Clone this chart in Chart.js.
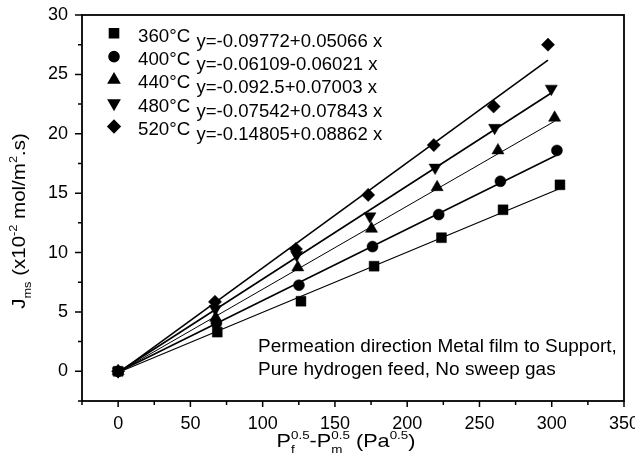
<!DOCTYPE html>
<html>
<head>
<meta charset="utf-8">
<script src="https://cdn.jsdelivr.net/npm/chart.js@4.4.0/dist/chart.umd.min.js"></script>
<style>
  html, body { margin: 0; padding: 0; background: #fff; }
  #wrap { width: 635px; height: 462px; }
</style>
</head>
<body>
<div id="wrap"><canvas id="chart" width="635" height="462"></canvas></div>
<script>
// series labels and fit equations as printed on the figure
const temps = ['360°C', '400°C', '440°C', '480°C', '520°C'];
const equations = [
  'y=-0.09772+0.05066 x',
  'y=-0.06109-0.06021 x',
  'y=-0.092.5+0.07003 x',
  'y=-0.07542+0.07843 x',
  'y=-0.14805+0.08862 x'
];
const intercepts = [-0.09772, -0.06109, -0.0925, -0.07542, -0.14805];
const slopes = [0.05066, 0.06021, 0.07003, 0.07843, 0.08862];

const x360 = [0, 68.6, 126.5, 177.1, 223.7, 266.3, 305.7];
const y360 = [0, 3.3, 5.9, 8.85, 11.25, 13.6, 15.7];
const x400 = [0, 68.0, 125.1, 176.0, 221.8, 264.5, 303.6];
const y400 = [0, 4.05, 7.25, 10.5, 13.2, 16.0, 18.6];
const x440 = [0, 67.5, 124.3, 175.3, 220.7, 262.8, 302.0];
const y440 = [0, 4.5, 8.75, 12.0, 15.5, 18.6, 21.35];
const x480 = [0, 67.2, 123.5, 174.2, 219.3, 260.5, 299.7];
const y480 = [0, 5.25, 9.8, 13.05, 17.15, 20.5, 23.8];
const x520 = [0, 67.0, 123.0, 173.0, 218.4, 259.8, 297.4];
const y520 = [0, 5.85, 10.3, 14.85, 19.05, 22.3, 27.5];

const xTicks = [0, 50, 100, 150, 200, 250, 300, 350];
const xMinorTicks = [-25, 25, 75, 125, 175, 225, 275, 325];
const yTicks = [0, 5, 10, 15, 20, 25, 30];
const yMinorTicks = [-2.5, 2.5, 7.5, 12.5, 17.5, 22.5, 27.5];

const xs = [x360, x400, x440, x480, x520];
const ys = [y360, y400, y440, y480, y520];

const FONT = '"Liberation Sans", Arial, Helvetica, sans-serif';
const markers = [
  { pointStyle: 'rect', rotation: 0, radius: 7 },
  { pointStyle: 'circle', rotation: 0, radius: 5.5 },
  { pointStyle: 'triangle', rotation: 0, radius: 7 },
  { pointStyle: 'triangle', rotation: 180, radius: 7 },
  { pointStyle: 'rectRot', rotation: 0, radius: 6.6 }
];
const fitWidths = [1.2, 1.6, 1, 1.6, 1.6];

const datasets = [];
xs.forEach((xv, i) => {
  const xEnd = xv[xv.length - 1];
  datasets.push({
    label: temps[i] + ' fit',
    data: [{ x: 0, y: intercepts[i] }, { x: xEnd, y: intercepts[i] + slopes[i] * xEnd }],
    showLine: true,
    borderColor: '#000',
    borderWidth: fitWidths[i],
    pointRadius: 0,
    order: 2
  });
});
xs.forEach((xv, i) => {
  datasets.push({
    label: temps[i],
    data: xv.map((x, k) => ({ x, y: ys[i][k] })),
    showLine: false,
    pointStyle: markers[i].pointStyle,
    rotation: markers[i].rotation,
    pointRadius: markers[i].radius,
    backgroundColor: '#000',
    borderColor: '#000',
    borderWidth: 0.5,
    order: 1
  });
});

function layoutRuns(ctx, runs, size) {
  let x = 0, held = 0;
  const items = [];
  runs.forEach(r => {
    const s = (r.sub || r.sup) ? size * 0.62 : size;
    const font = s + 'px ' + FONT;
    ctx.font = font;
    const w = ctx.measureText(r.t).width;
    const dy = r.sub ? size * 0.3 : r.sup ? -size * 0.42 : 0;
    items.push({ t: r.t, x, dy, font });
    if (r.hold) { held = w; } else { x += Math.max(w, held); held = 0; }
  });
  return { items, width: x };
}

function drawRuns(ctx, runs, size, sx, align) {
  const lay = layoutRuns(ctx, runs, size);
  const off = align === 'center' ? lay.width / 2 : 0;
  ctx.save();
  ctx.scale(sx, 1);
  ctx.textAlign = 'left';
  ctx.textBaseline = 'alphabetic';
  lay.items.forEach(it => {
    ctx.font = it.font;
    ctx.fillText(it.t, it.x - off, it.dy);
  });
  ctx.restore();
}

const decor = {
  id: 'decor',
  afterDraw(chart) {
    const { ctx, chartArea: a, scales } = chart;
    const xs_ = scales.x, ys_ = scales.y;
    ctx.save();
    ctx.strokeStyle = '#000';
    ctx.fillStyle = '#000';

    // frame
    ctx.lineWidth = 1.8;
    ctx.strokeRect(a.left, a.top, a.right - a.left, a.bottom - a.top);

    // ticks
    ctx.lineWidth = 1.5;
    ctx.beginPath();
    xTicks.forEach(v => { const p = xs_.getPixelForValue(v); ctx.moveTo(p, a.bottom); ctx.lineTo(p, a.bottom + 6); });
    xMinorTicks.forEach(v => { const p = xs_.getPixelForValue(v); ctx.moveTo(p, a.bottom); ctx.lineTo(p, a.bottom + 4); });
    yTicks.forEach(v => { const p = ys_.getPixelForValue(v); ctx.moveTo(a.left, p); ctx.lineTo(a.left - 7, p); });
    yMinorTicks.forEach(v => { const p = ys_.getPixelForValue(v); ctx.moveTo(a.left, p); ctx.lineTo(a.left - 4, p); });
    ctx.stroke();

    // legend with equations
    temps.forEach((t, i) => {
      const m = markers[i];
      Chart.helpers.drawPoint(ctx, { pointStyle: m.pointStyle, rotation: m.rotation, radius: m.radius * 0.92, borderWidth: 0.5 }, 114, 33.3 + 23.3 * i);
      ctx.save();
      ctx.translate(138, 41.7 + 23.3 * i);
      drawRuns(ctx, [{ t }], 17.5, 1.07, 'left');
      ctx.restore();
      ctx.save();
      ctx.translate(196.5, 46.7 + 23.3 * i);
      drawRuns(ctx, [{ t: equations[i] }], 17.5, 1.06, 'left');
      ctx.restore();
    });

    // note
    ctx.save();
    ctx.translate(258, 352);
    drawRuns(ctx, [{ t: 'Permeation direction Metal film to Support,' }], 17.5, 1.085, 'left');
    ctx.restore();
    ctx.save();
    ctx.translate(258, 375);
    drawRuns(ctx, [{ t: 'Pure hydrogen feed, No sweep gas' }], 17.5, 1.085, 'left');
    ctx.restore();

    // x title
    ctx.save();
    ctx.translate(346, 447);
    drawRuns(ctx, [
      { t: 'P' }, { t: 'f', sub: true, hold: true }, { t: '0.5', sup: true },
      { t: '-P' }, { t: 'm', sub: true, hold: true }, { t: '0.5', sup: true },
      { t: ' (Pa' }, { t: '0.5', sup: true }, { t: ')' }
    ], 19, 1.14, 'center');
    ctx.restore();

    // y title
    ctx.save();
    ctx.translate(25, 221);
    ctx.rotate(-Math.PI / 2);
    drawRuns(ctx, [
      { t: 'J' }, { t: 'ms', sub: true }, { t: ' (x10' }, { t: '-2', sup: true },
      { t: ' mol/m' }, { t: '2', sup: true }, { t: '.s)' }
    ], 19, 1.08, 'center');
    ctx.restore();

    ctx.restore();
  }
};

new Chart(document.getElementById('chart'), {
  type: 'scatter',
  data: { datasets },
  plugins: [decor],
  options: {
    responsive: false,
    animation: false,
    layout: { padding: { top: 15, right: 11, left: 0, bottom: 0 } },
    plugins: { legend: { display: false }, tooltip: { enabled: false } },
    scales: {
      x: {
        type: 'linear',
        min: -25,
        max: 350,
        afterBuildTicks: s => { s.ticks = xTicks.map(v => ({ value: v })); },
        afterFit: s => { s.height = 61; s.paddingLeft = 0; s.paddingRight = 0; },
        grid: { display: false, drawTicks: true, tickLength: 7 },
        border: { display: false },
        ticks: { color: '#000', padding: 5, maxRotation: 0, autoSkip: false, font: { family: FONT, size: 18 } }
      },
      y: {
        type: 'linear',
        min: -2.5,
        max: 30,
        afterBuildTicks: s => { s.ticks = yTicks.map(v => ({ value: v })); },
        afterFit: s => { s.width = 82; s.paddingTop = 0; s.paddingBottom = 0; },
        grid: { display: false, drawTicks: true, tickLength: 7 },
        border: { display: false },
        ticks: { color: '#000', padding: 7, autoSkip: false, font: { family: FONT, size: 18 } }
      }
    }
  }
});
</script>
</body>
</html>
